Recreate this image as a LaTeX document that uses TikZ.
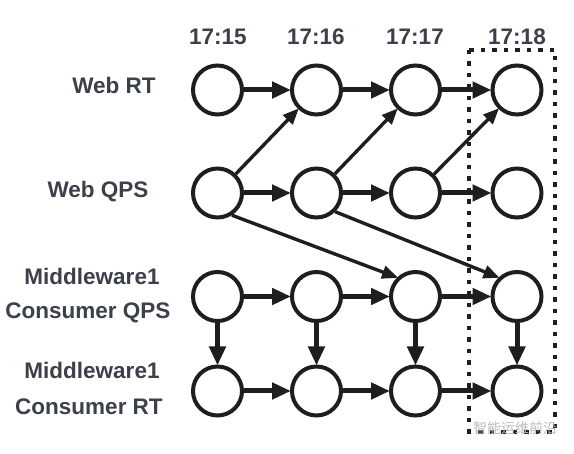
\documentclass[tikz,border=0pt]{standalone}
\usepackage{fontspec}
\setmainfont{Liberation Sans}
\newfontfamily\cjk{Noto Sans CJK SC}
\usetikzlibrary{arrows.meta}
\definecolor{ink}{HTML}{1E1E1E}
\definecolor{labelgray}{HTML}{3B404A}
\tikzset{
  state/.style={circle, draw=ink, line width=4pt, minimum size=49pt, inner sep=0pt},
  flow/.style={draw=ink, line width=5pt, -{Triangle[length=19pt, width=16pt]}, shorten >=-1pt},
  cross/.style={draw=ink, line width=3.4pt, -{Triangle[length=16pt, width=13pt]}, shorten >=-1pt},
  lbl/.style={text=labelgray, font=\fontsize{22.5}{24}\selectfont\bfseries, inner sep=0pt}
}
\begin{document}
\begin{tikzpicture}[x=1pt, y=-1pt]
\useasboundingbox (0, 0) rectangle (574, 454);

% time stamps
\node[lbl] (t15) at (218, 37) {17:15};
\node[lbl] (t16) at (316, 37) {17:16};
\node[lbl] (t17) at (415, 37) {17:17};
\node[lbl] (t18) at (517, 37) {17:18};

% row labels
\node[lbl] (lwebrt) at (114, 85) {Web RT};
\node[lbl] (lwebqps) at (98, 192) {Web QPS};
\node[lbl] (lmwqpsa) at (92, 276) {Middleware1};
\node[lbl] (lmwqpsb) at (88, 313) {Consumer QPS};
\node[lbl] (lmwrta) at (92, 370) {Middleware1};
\node[lbl] (lmwrtb) at (89, 407) {Consumer RT};

% states
\node[state] (rt1) at (217.5, 90) {};
\node[state] (rt2) at (316.5, 90) {};
\node[state] (rt3) at (415.5, 90) {};
\node[state] (rt4) at (517, 90) {};

\node[state] (qps1) at (217.5, 193) {};
\node[state] (qps2) at (316.5, 193) {};
\node[state] (qps3) at (415.5, 193) {};
\node[state] (qps4) at (517, 193) {};

\node[state] (cq1) at (217.5, 296.5) {};
\node[state] (cq2) at (316.5, 296.5) {};
\node[state] (cq3) at (415.5, 296.5) {};
\node[state] (cq4) at (517, 296.5) {};

\node[state] (cr1) at (217.5, 391) {};
\node[state] (cr2) at (316.5, 391) {};
\node[state] (cr3) at (415.5, 391) {};
\node[state] (cr4) at (517, 391) {};

% horizontal
\draw[flow] (rt1) -- (rt2);
\draw[flow] (rt2) -- (rt3);
\draw[flow] (rt3) -- (rt4);
\draw[flow] (qps1) -- (qps2);
\draw[flow] (qps2) -- (qps3);
\draw[flow] (qps3) -- (qps4);
\draw[flow] (cq1) -- (cq2);
\draw[flow] (cq2) -- (cq3);
\draw[flow] (cq3) -- (cq4);
\draw[flow] (cr1) -- (cr2);
\draw[flow] (cr2) -- (cr3);
\draw[flow] (cr3) -- (cr4);

% vertical
\draw[flow] (cq1) -- (cr1);
\draw[flow] (cq2) -- (cr2);
\draw[flow] (cq3) -- (cr3);
\draw[flow] (cq4) -- (cr4);

% diagonals
\draw[cross] (qps1) -- (rt2);
\draw[cross] (qps2) -- (rt3);
\draw[cross] (qps3) -- (rt4);
\draw[cross] (qps1.-57) -- (cq3.134);
\draw[cross] (qps2.-45) -- (cq4.134);

% current minute
\draw[ink, line width=4pt, dash pattern=on 4.5pt off 7pt] (469, 50) rectangle (555, 432);

\node[text=gray!55, font=\cjk\fontsize{14}{16}\selectfont, inner sep=0pt] (mark) at (515, 428) {智能运维前沿};
\end{tikzpicture}
\end{document}
